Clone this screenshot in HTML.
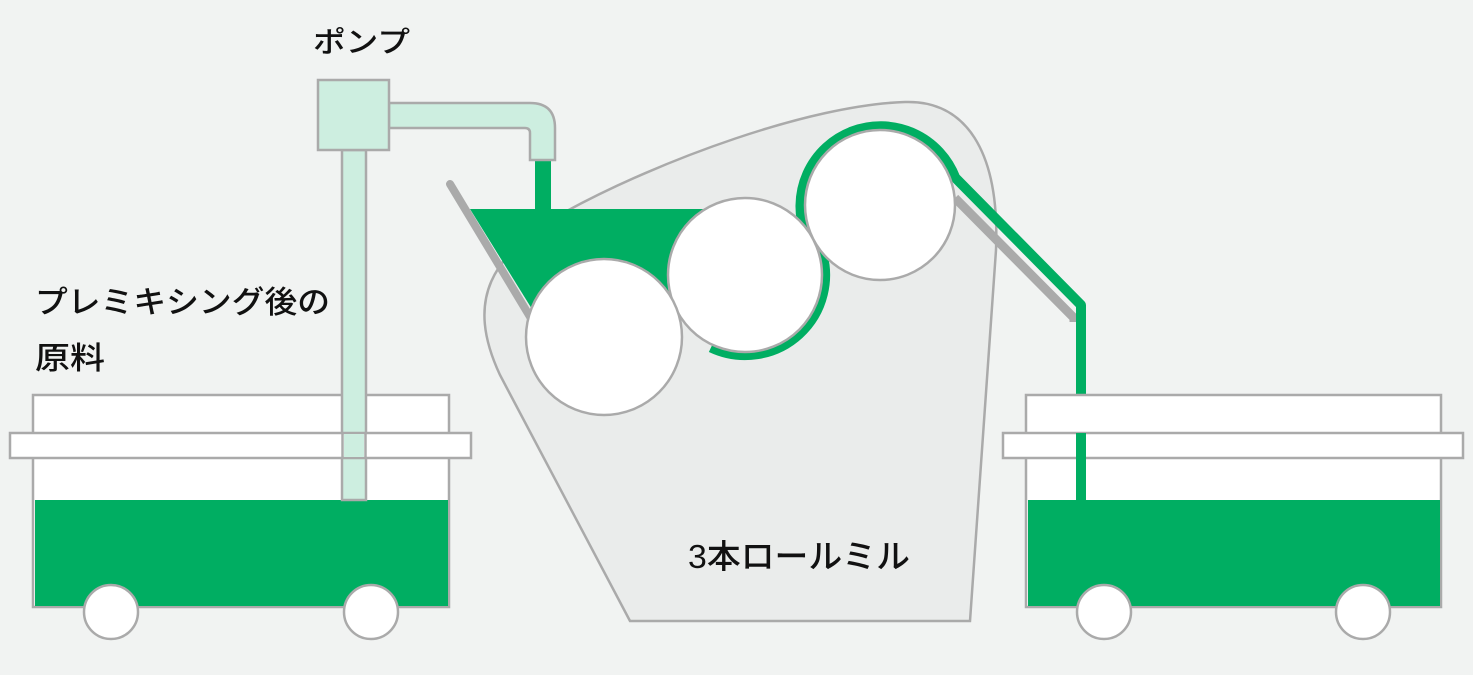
<!DOCTYPE html>
<html><head><meta charset="utf-8"><style>
html,body{margin:0;padding:0;background:#f1f3f2;}
svg{display:block}
text{font-family:"Liberation Sans","Noto Sans CJK JP",sans-serif;fill:#111;font-weight:500;}
</style></head><body>
<svg width="1473" height="675" viewBox="0 0 1473 675" xmlns="http://www.w3.org/2000/svg">
<rect width="1473" height="675" fill="#f1f3f2"/>
<!-- machine body -->
<path d="M630,621 L970,621 L996,250 C1000,150 965,100 905,102 C810,105 660,160 565,212 C490,255 465,300 500,375 L630,621 Z" fill="#eaeceb" stroke="#aaa" stroke-width="2.5"/>
<!-- hopper gray side -->
<line x1="450" y1="184" x2="535" y2="325" stroke="#aaa" stroke-width="8" stroke-linecap="round"/>
<!-- hopper green -->
<polygon points="470,209 705,209 690,300 540,322" fill="#00ae62"/>
<rect x="535" y="160" width="16" height="52" fill="#00ae62"/>
<!-- outlet gray shadow -->
<path d="M955,198 L1074,318 L1074,322" stroke="#aaa" stroke-width="9" fill="none"/>
<!-- green bands -->
<path d="M711,347.5 A80,80 0 0 0 820.2,247.6" stroke="#00ae62" stroke-width="10" fill="none"/>
<path d="M805.8,235 A80,80 0 1 1 955.2,177.6 L1081,305 L1081,500" stroke="#00ae62" stroke-width="10" fill="none" stroke-linejoin="round"/>
<!-- rolls -->
<circle cx="745" cy="275" r="77" fill="#fff" stroke="#aaa" stroke-width="2.5"/>
<circle cx="880" cy="205" r="75" fill="#fff" stroke="#aaa" stroke-width="2.5"/>
<circle cx="604" cy="337" r="78" fill="#fff" stroke="#aaa" stroke-width="2.5"/>
<!-- left tank -->
<rect x="33" y="395" width="416" height="212" fill="#fff" stroke="#aaa" stroke-width="2.5"/>
<rect x="35" y="500" width="413" height="106" fill="#00ae62"/>
<!-- pump pipes -->
<rect x="342" y="150" width="24" height="350" fill="#cdeee0" stroke="#aaa" stroke-width="2.5"/>
<rect x="10" y="433" width="461" height="25" fill="#fff" stroke="#aaa" stroke-width="2.5"/>
<rect x="344" y="434" width="20" height="23" fill="#cdeee0"/>
<line x1="342.5" y1="433" x2="342.5" y2="458" stroke="#aaa" stroke-width="2.5"/>
<line x1="365.5" y1="433" x2="365.5" y2="458" stroke="#aaa" stroke-width="2.5"/>
<path d="M389,103 L530,103 Q555,103 555,128 L555,160 L530,160 L530,133 Q530,128 525,128 L389,128 Z" fill="#cdeee0" stroke="#aaa" stroke-width="2.5"/>
<rect x="318" y="80" width="71" height="70" fill="#cdeee0" stroke="#aaa" stroke-width="2.5"/>
<circle cx="111" cy="612" r="27" fill="#fff" stroke="#aaa" stroke-width="2.5"/>
<circle cx="371" cy="612" r="27" fill="#fff" stroke="#aaa" stroke-width="2.5"/>
<!-- right tank -->
<rect x="1026" y="395" width="415" height="212" fill="#fff" stroke="#aaa" stroke-width="2.5"/>
<rect x="1028" y="500" width="412" height="106" fill="#00ae62"/>
<rect x="1003" y="433" width="460" height="25" fill="#fff" stroke="#aaa" stroke-width="2.5"/>
<rect x="1076" y="433" width="10" height="70" fill="#00ae62"/>
<circle cx="1104" cy="612" r="27" fill="#fff" stroke="#aaa" stroke-width="2.5"/>
<circle cx="1363" cy="612" r="27" fill="#fff" stroke="#aaa" stroke-width="2.5"/>
<!-- text -->
<text x="313" y="52" font-size="29" textLength="97" lengthAdjust="spacingAndGlyphs">ポンプ</text>
<text x="35" y="313" font-size="31" textLength="295" lengthAdjust="spacingAndGlyphs">プレミキシング後の</text>
<text x="35" y="369" font-size="31" textLength="70" lengthAdjust="spacingAndGlyphs">原料</text>
<text x="688" y="568" font-size="33" textLength="222" lengthAdjust="spacingAndGlyphs">3本ロールミル</text>
</svg>
</body></html>
